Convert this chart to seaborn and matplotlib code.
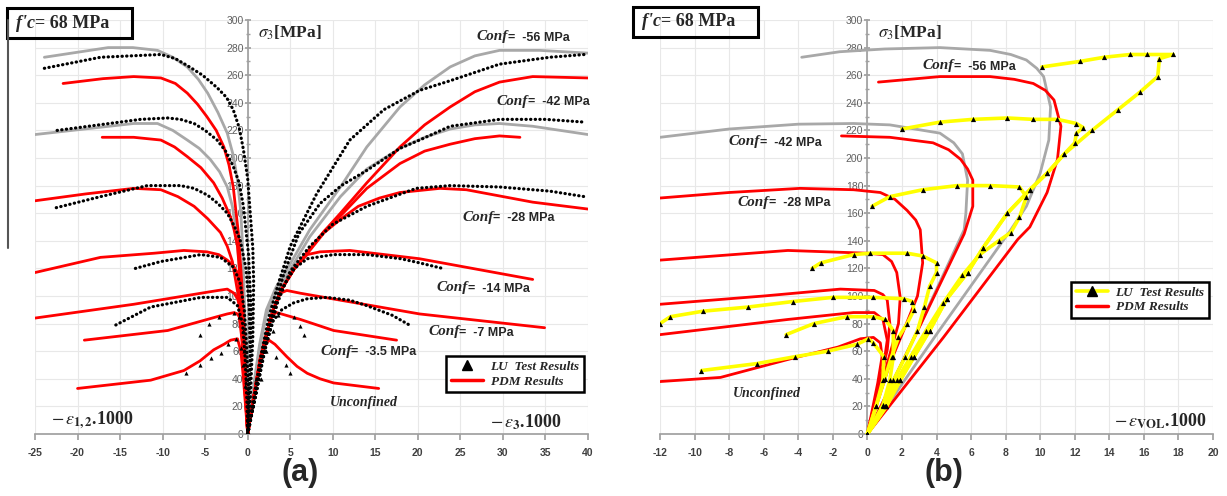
import numpy as np
import pandas as pd
import matplotlib
matplotlib.use("Agg")
import matplotlib.pyplot as plt
import seaborn as sns
from matplotlib.patches import Rectangle
from matplotlib.lines import Line2D

sns.set_theme(style="white")
plt.rcParams['font.family'] = ['Liberation Sans', 'DejaVu Sans']
plt.rcParams['mathtext.fontset'] = 'stix'
plt.rcParams['axes.unicode_minus'] = False

RED = '#ff0000'
GRAY = '#a8a8a8'
YEL = '#ffff00'

# ---------------- Panel (a): sigma3 vs strains ----------------
# PDM (red) lateral branches (negative side)
a_red_lat_56 = ([-21.7, -17, -13.4, -10.2, -8.5, -7.1, -5.9, -4.8, -3.7, -2.8, -2.2, -1.7, -1.1, -0.7, -0.4, -0.2, 0],
                [254, 257.5, 259, 258, 254, 247, 239, 230, 220, 208, 195, 179, 146, 110, 70, 35, 0])
a_red_lat_42 = ([-17.1, -13.4, -10.2, -8.6, -7.1, -5.5, -4.0, -3.0, -2.0, -1.6, -1.2, -0.8, -0.5, -0.25, 0],
                [215, 215, 213, 208, 201, 193, 182, 171, 157, 148, 136, 105, 70, 35, 0])
a_red_lat_28 = ([-25, -19, -13.4, -10.2, -8.2, -6.3, -4.7, -3.2, -2.4, -1.8, -1.1, -0.6, -0.3, 0],
                [169, 174, 178, 177, 172, 165, 156, 146, 136, 125, 100, 65, 30, 0])
a_red_lat_14 = ([-25, -17.3, -11, -7.5, -4.8, -3.4, -2.4, -1.7, -1.2, -0.8, -0.5, -0.25, 0],
                [117, 128, 131, 133, 132, 130, 126, 122, 117, 95, 65, 30, 0])
a_red_lat_7 = ([-25, -13.4, -5.5, -3.5, -2.4, -1.6, -1.2, -0.9, -0.6, -0.35, 0],
               [84, 94, 102, 104, 105, 102, 98, 92, 70, 40, 0])
a_red_lat_35 = ([-19.2, -9.4, -3.6, -2.4, -1.6, -1.2, -1.0, -0.7, -0.4, 0],
                [68, 75, 85, 87, 88, 87, 85, 70, 40, 0])
a_red_lat_0 = ([-20, -11.4, -7.5, -5.6, -4, -2.8, -2, -1.2, -0.8, -0.5, -0.25, 0],
               [33, 39, 46, 53, 61, 65, 68, 69, 60, 40, 20, 0])
# PDM (red) axial branches (positive side)
a_red_ax_56 = ([0, 0.8, 1.5, 2.2, 3.0, 4.0, 5.5, 7.3, 9, 10.9, 14, 17.9, 20.8, 23.8, 26.7, 29.6, 33.5, 40],
               [0, 30, 55, 72, 90, 105, 120, 134, 147, 160, 182, 208, 224, 237, 248, 255, 259, 258])
a_red_ax_42 = ([0, 0.8, 1.5, 2.2, 3.0, 4.0, 5.5, 7.3, 9, 10.9, 14, 17.9, 20.8, 23.8, 26.7, 29.6, 32],
               [0, 30, 55, 72, 90, 105, 120, 134, 147, 158, 178, 196, 205, 210, 214, 216, 215])
a_red_ax_28 = ([0, 0.8, 1.5, 2.2, 3.0, 4.0, 5.5, 7.3, 9, 11, 13, 15.5, 17.9, 22.6, 25.7, 33.5, 40],
               [0, 30, 55, 72, 90, 105, 120, 133, 146, 156, 165, 171, 175, 178, 177, 168, 163])
a_red_ax_14 = ([0, 0.8, 1.5, 2.2, 3.0, 4.0, 5.5, 7, 8.5, 12, 20.2, 33.5],
               [0, 30, 55, 72, 90, 105, 120, 130, 132, 133, 127, 112])
a_red_ax_7 = ([0, 0.8, 1.5, 2.2, 3.0, 3.8, 4.6, 6.2, 20.2, 34.9],
              [0, 30, 55, 72, 90, 102, 104, 102, 87, 77])
a_red_ax_35 = ([0, 0.8, 1.5, 2.2, 2.8, 3.4, 6.2, 10.1, 17.5],
               [0, 30, 55, 72, 86, 88, 83, 75, 68])
a_red_ax_0 = ([0, 0.8, 1.5, 2.0, 2.5, 3.2, 4.6, 5.8, 7, 8.5, 10.1, 15.4],
              [0, 30, 52, 64, 68, 65, 56, 49, 44, 40, 37, 33])
# second model (gray)
a_gray_lat_56 = ([-23.9, -16.4, -13.5, -10.6, -8.8, -7.1, -5.8, -4.7, -3.5, -2.4, -1.7, -1.2, -0.8, -0.6, -0.35, -0.15, 0],
                 [273, 280, 280, 278, 273, 266, 257, 247, 233, 218, 202, 184, 160, 136, 90, 40, 0])
a_gray_lat_42 = ([-25, -13.4, -10.6, -8.8, -7.1, -5.7, -4.4, -3.3, -2.4, -1.8, -1.4, -0.8, -0.4, -0.15, 0],
                 [217, 225, 225, 220, 213, 207, 199, 190, 179, 165, 150, 110, 60, 25, 0])
a_gray_ax_56 = ([0, 0.7, 1.4, 2.2, 3.3, 4.6, 7.3, 10.9, 14, 17.9, 20.8, 23.8, 26.7, 29.6, 34.3, 40],
                [0, 35, 65, 90, 106, 119, 148, 179, 208, 237, 253, 266, 274, 278, 278, 276])
a_gray_ax_42 = ([0, 0.7, 1.4, 2.2, 3.3, 4.6, 7.3, 10.9, 14, 17.9, 20.8, 23.8, 26.7, 29.6, 33.5, 40],
                [0, 33, 62, 86, 102, 115, 143, 172, 192, 207, 215, 221, 224, 225, 223, 217])
# LU test results (dense black markers)
a_test_lat_56 = ([-23.9, -17.3, -10.2, -8.5, -7.1, -5.3, -3.6, -2.5, -1.7, -1.0, -0.5, 0, 0.3, 0.6, 0.7, 0.6, 0.3, 0],
                 [265, 273, 275, 272, 267, 260, 251, 244, 235, 222, 206, 185, 160, 135, 110, 70, 25, 0])
a_test_lat_42 = ([-22.4, -12.6, -9.4, -7.9, -6.3, -5.0, -3.6, -2.6, -1.7, -1.0, -0.5, 0.1, 0.4, 0.3, 0.1, 0],
                 [220, 228, 229, 228, 225, 220, 213, 205, 194, 182, 165, 130, 90, 50, 20, 0])
a_test_lat_28 = ([-22.5, -17.3, -11.8, -7.9, -6.3, -4.7, -3.5, -2.4, -1.6, -0.9, -0.2, 0.2, 0.3, 0.1, 0],
                 [164, 172, 180, 180, 178, 173, 167, 160, 151, 141, 120, 90, 50, 20, 0])
a_test_lat_14 = ([-13.2, -10.2, -5.5, -3.2, -1.7, -0.9, -0.4, -0.1, 0.1, 0],
                 [120, 125, 130, 128, 121, 110, 90, 60, 30, 0])
a_test_lat_7 = ([-15.5, -11.4, -5.5, -2.4, -1.2, -0.6, -0.3, -0.1, 0],
                [79, 92, 99, 99, 93, 80, 55, 25, 0])
a_test_ax_56 = ([0, 0.7, 1.5, 2.5, 3.6, 5, 8.1, 12, 16, 20.2, 23.8, 29.6, 35.5, 39.6],
                [0, 25, 55, 85, 109, 136, 174, 213, 235, 249, 256, 268, 273, 275])
a_test_ax_42 = ([0, 0.8, 1.7, 2.8, 4.2, 6, 8.5, 11, 14, 17.9, 20.2, 23.8, 29.6, 35, 39.6],
                [0, 25, 55, 85, 115, 145, 167, 180, 191, 207, 213, 223, 228, 228, 226])
a_test_ax_28 = ([0, 1, 2, 3.5, 5, 7.3, 10, 14, 19.8, 23.8, 29.6, 35.5, 39.6],
                [0, 30, 60, 95, 118, 136, 152, 165, 178, 180, 179, 176, 172])
a_test_ax_14 = ([0, 1, 2, 3, 4, 5.5, 7, 10.1, 14, 18, 20.2, 22.9],
                [0, 30, 62, 88, 105, 120, 127, 130, 130, 127, 124, 120])
a_test_ax_7 = ([0, 1, 2, 3, 4, 5.4, 7, 9.3, 12, 14, 17, 19],
               [0, 30, 62, 82, 90, 95, 98, 99, 97, 93, 86, 79])
# sparse test points
a_pts_35 = ([-5.6, -4.6, -3.4, -1.6, -1.0, -0.6, -0.4, -0.2, 0.5, 1.0, 2.0, 3.0, 3.6, 5.4, 6.1, 6.6],
            [72, 80, 85, 88, 85, 75, 60, 40, 20, 40, 60, 75, 86, 85, 78, 72])
a_pts_0 = ([-7.3, -5.6, -4.3, -3.1, -2.3, -1.4, -0.8, -0.5, -0.3, 1.6, 2.2, 3.3, 4.5, 5.0],
           [44, 50, 55, 59, 65, 69, 62, 50, 35, 40, 60, 56, 50, 44])

# ---------------- Panel (b): sigma3 vs volumetric strain ----------------
b_gray_56 = ([-3.8, -1.6, 1, 4.2, 7.1, 8.3, 9.2, 9.8, 10.2, 10.6, 10.5, 10, 9.2, 8.3, 4.1, 0],
             [273, 277, 279, 280, 278, 275, 271, 265, 259, 237, 213, 189, 165, 148, 74, 0])
b_gray_42 = ([-12, -8, -4, -0.8, 1.3, 4.2, 5.0, 5.5, 5.8, 5.7, 5.6, 2.9, 0],
             [215, 221, 224.5, 225, 224, 218, 211, 203, 184, 160, 148, 75, 0])
b_red_56 = ([0.64, 4.2, 7.1, 8.5, 9.6, 10.3, 10.8, 11.2, 11, 10.4, 9.4, 8.7, 4.4, 0],
            [255, 259, 259, 257, 254, 249, 242, 223, 199, 175, 150, 141, 70, 0])
b_red_42 = ([-1.5, 1.3, 3.8, 4.7, 5.4, 5.8, 6.1, 6.1, 5.6, 2.8, 0],
            [216, 215, 211, 206, 199, 192, 184, 165, 145, 72, 0])
b_red_28 = ([-12, -8, -3.9, -0.8, 0.75, 1.6, 2.3, 2.8, 3.06, 3.2, 2.9, 2.1, 1.3, 0],
            [171, 175, 178, 177, 175, 170, 162, 155, 148, 124, 100, 75, 51, 0])
b_red_14 = ([-12, -4.6, 0, 0.9, 1.4, 1.7, 1.9, 1.8, 1.15, 0],
            [126, 133, 131, 130, 125, 117, 99, 80, 51, 0])
b_red_7 = ([-12, -6, -1.56, 0.4, 0.9, 1.15, 1.3, 1.15, 0.6, 0],
           [94, 100, 105, 104, 101, 97, 80, 61, 32, 0])
b_red_35 = ([-12, -4.6, -0.8, 0.4, 0.9, 1.15, 0.9, 0],
            [72, 83, 88, 88, 83, 68, 46, 0])
b_red_0 = ([-12, -8.5, -4.6, -1.7, -0.4, 0.35, 0.75, 0.85, 0.6, 0],
           [38, 41, 54, 63, 69, 70, 66, 56, 37, 0])
b_test_56 = ([0, 1.1, 1.9, 2.7, 3.6, 4.6, 5.8, 6.7, 8.1, 9.4, 10.4, 11.4, 13, 14.5, 15.8, 16.8, 16.9, 17.7, 16.2, 15.2, 13.7, 12.3, 10.1],
             [0, 20, 39, 56, 75, 98, 117, 135, 160, 177, 189, 203, 220, 235, 248, 259, 272, 275, 275, 275, 273, 270, 266])
b_test_42 = ([0, 1.1, 1.9, 2.7, 3.6, 4.6, 5.8, 6.7, 8.1, 9.4, 10.4, 11.4, 12.0, 12.1, 12.5, 12.1, 11, 9.6, 8.1, 6.1, 4.2, 2.0],
             [0, 20, 39, 56, 75, 98, 117, 135, 160, 177, 189, 203, 211, 218, 222, 225, 228, 228, 229, 228, 226, 221])
b_test_28 = ([0, 1.0, 1.7, 2.5, 3.4, 4.4, 5.5, 6.5, 7.6, 8.3, 8.8, 9.2, 8.8, 7.1, 5.2, 3.2, 1.3, 0.27],
             [0, 20, 39, 56, 75, 95, 115, 130, 140, 146, 157, 172, 179, 180, 180, 177, 172, 165])
b_test_14 = ([0, 0.9, 1.5, 2.2, 2.9, 3.3, 3.6, 4.0, 4.0, 3.2, 2.3, 0.17, -0.8, -2.7, -3.2],
             [0, 20, 39, 56, 75, 92, 107, 117, 124, 129, 131, 131, 130, 124, 120])
b_test_7 = ([0, 0.5, 1.0, 1.4, 1.8, 2.3, 2.7, 2.6, 2.1, 0.35, -2, -4.3, -6.9, -9.5, -11.4, -12],
            [0, 20, 40, 56, 70, 80, 90, 96, 98, 99, 99, 96, 92, 89, 85, 80])
b_test_35 = ([0, 0.9, 1.3, 1.5, 1.5, 1.04, 0.35, -1.2, -3.1, -4.7],
             [0, 21, 39, 56, 75, 83, 85, 85, 80, 72])
b_test_0 = ([0, 0.5, 0.9, 0.95, 0.35, 0.06, -0.6, -2.3, -4.2, -6.4, -9.6],
            [0, 20, 39, 56, 66, 69, 65, 60, 56, 51, 46])

a_conf_labels = [("-56", 26.9, 287.7), ("-42", 29.3, 241), ("-28", 25.2, 157),
                 ("-14", 22.2, 105.8), ("-7", 21.2, 74), ("-3.5", 8.5, 60)]
b_conf_labels = [("-56", 3.18, 266.7), ("-42", -8.03, 211.6), ("-28", -7.5, 168)]
legend_labels = ["LU  Test Results", "PDM Results"]

W, H = 1227, 496
fig = plt.figure(figsize=(W / 100, H / 100), dpi=100)
fig.patch.set_facecolor('white')
axA = fig.add_axes([35 / W, 62 / H, 553 / W, 414 / H])
axB = fig.add_axes([660 / W, 62 / H, 553 / W, 414 / H])


def line(ax, data, color, lw=2.0, z=2, **kw):
    kw.setdefault('solid_joinstyle', 'round')
    kw.setdefault('solid_capstyle', 'round')
    sns.lineplot(x=data[0], y=data[1], sort=False, estimator=None, ax=ax,
                 color=color, lw=lw, zorder=z, legend=False, **kw)


def dots(ax, data):
    line(ax, data, 'black', lw=2.3, z=4, linestyle=(0, (0.1, 1.35)),
         dash_capstyle='round')


def style(ax, xlim, xstep):
    ax.set_xlim(*xlim)
    ax.set_ylim(0, 300)
    ax.set_xticks(np.arange(xlim[0], xlim[1] + 1, xstep))
    ax.set_yticks(np.arange(0, 301, 20))
    ax.set_yticks(np.arange(0, 301, 10), minor=True)
    ax.grid(True, which='major', color='#e8e8e8', lw=0.8)
    ax.set_axisbelow(True)
    for s in ['top', 'right']:
        ax.spines[s].set_visible(False)
    ax.spines['left'].set_position(('data', 0))
    ax.spines['left'].set_color('#a0a0a0')
    ax.spines['bottom'].set_color('#a0a0a0')
    ax.spines['left'].set_zorder(1)
    ax.tick_params(axis='y', which='major', length=4, direction='inout', color='#a0a0a0',
                   labelsize=7.5, labelcolor='#606060', pad=1, left=True)
    ax.tick_params(axis='y', which='minor', length=2.5, direction='inout', color='#a0a0a0', left=True)
    ax.tick_params(axis='x', length=4, direction='out', color='#a0a0a0', labelsize=7.5,
                   labelcolor='#404040', pad=6, bottom=True)
    for l in ax.get_xticklabels():
        l.set_fontweight('bold')
    for l in ax.get_yticklabels():
        l.set_zorder(0)
    ax.set_xlabel('')
    ax.set_ylabel('')
    ax.patch.set_alpha(0)


def conf(ax, x, y, val):
    t = ax.text(x, y, 'Conf', family='Liberation Serif', style='italic', weight='bold',
                fontsize=11, va='center', ha='left', color='#262626', zorder=6)
    ax.annotate(f'=  {val} MPa', xy=(1, 0.45), xycoords=t, va='center', ha='left',
                family='Liberation Sans', weight='bold', fontsize=9, color='#262626', zorder=6)


# ---- panel a
for d in [a_gray_lat_56, a_gray_lat_42, a_gray_ax_56, a_gray_ax_42]:
    line(axA, d, GRAY, lw=2.0, z=2)
for d in [a_red_lat_56, a_red_lat_42, a_red_lat_28, a_red_lat_14, a_red_lat_7, a_red_lat_35, a_red_lat_0,
          a_red_ax_56, a_red_ax_42, a_red_ax_28, a_red_ax_14, a_red_ax_7, a_red_ax_35, a_red_ax_0]:
    line(axA, d, RED, lw=2.0, z=3)
for d in [a_test_lat_56, a_test_lat_42, a_test_lat_28, a_test_lat_14, a_test_lat_7,
          a_test_ax_56, a_test_ax_42, a_test_ax_28, a_test_ax_14, a_test_ax_7]:
    dots(axA, d)
for d in [a_pts_35, a_pts_0]:
    sns.scatterplot(x=d[0], y=d[1], ax=axA, marker='^', color='black', s=9, linewidth=0, zorder=5, legend=False)
style(axA, (-25, 40), 5)

for v, x, y in a_conf_labels:
    conf(axA, x, y, v)
axA.text(9.7, 22.5, 'Unconfined', family='Liberation Serif', style='italic', weight='bold',
         fontsize=10, va='center', ha='left', color='#262626')
axA.text(-23.1, 10, r'$-\,\varepsilon_{\mathbf{1,2}}$.1000', family='Liberation Serif', weight='bold',
         fontsize=13, va='center', ha='left', color='#262626')
axA.text(28.5, 8.7, r'$-\,\varepsilon_{\mathbf{3}}$.1000', family='Liberation Serif', weight='bold',
         fontsize=13, va='center', ha='left', color='#262626')
axA.text(1.25, 291, r'$\sigma_{3}$[MPa]', family='Liberation Serif', weight='bold',
         fontsize=12.5, va='center', ha='left', color='#262626')

hA = [Line2D([], [], color='black', marker='^', ls='none', ms=7),
      Line2D([], [], color=RED, lw=2.5)]
legA = axA.legend(hA, legend_labels, loc='lower right', bbox_to_anchor=(0.993, 0.101),
                  frameon=True, fancybox=False, edgecolor='black', framealpha=1,
                  prop=dict(family='Liberation Serif', style='italic', weight='bold', size=9.5),
                  handlelength=2.4, borderpad=0.35, labelspacing=0.2, handletextpad=0.6, borderaxespad=0)
legA.get_frame().set_linewidth(1.8)

# ---- panel b
for d in [b_gray_56, b_gray_42]:
    line(axB, d, GRAY, lw=2.0, z=2)
for d in [b_red_56, b_red_42, b_red_28, b_red_14, b_red_7, b_red_35, b_red_0]:
    line(axB, d, RED, lw=2.0, z=3)
for d in [b_test_56, b_test_42, b_test_28, b_test_14, b_test_7, b_test_35, b_test_0]:
    line(axB, d, YEL, lw=2.6, z=4)
    sns.scatterplot(x=d[0], y=d[1], ax=axB, marker='^', color='black', s=14, linewidth=0, zorder=5, legend=False)
style(axB, (-12, 20), 2)

for v, x, y in b_conf_labels:
    conf(axB, x, y, v)
axB.text(-7.8, 29, 'Unconfined', family='Liberation Serif', style='italic', weight='bold',
         fontsize=10, va='center', ha='left', color='#262626')
axB.text(14.3, 9.4, r'$-\,\varepsilon_{\mathbf{VOL}}$.1000', family='Liberation Serif', weight='bold',
         fontsize=13, va='center', ha='left', color='#262626')
axB.text(0.64, 291, r'$\sigma_{3}$[MPa]', family='Liberation Serif', weight='bold',
         fontsize=12.5, va='center', ha='left', color='#262626')

hB = [Line2D([], [], color=YEL, lw=2.6, marker='^', mfc='black', mec='black', ms=7),
      Line2D([], [], color=RED, lw=2.5)]
legB = axB.legend(hB, legend_labels, loc='lower right', bbox_to_anchor=(0.993, 0.280),
                  frameon=True, fancybox=False, edgecolor='black', framealpha=1,
                  prop=dict(family='Liberation Serif', style='italic', weight='bold', size=9.5),
                  handlelength=2.4, borderpad=0.35, labelspacing=0.2, handletextpad=0.6, borderaxespad=0)
legB.get_frame().set_linewidth(1.8)

# ---- f'c boxes
for (x0, y0) in [(7, 8), (633, 7)]:
    fig.patches.append(Rectangle((x0 / W, 1 - (y0 + 30) / H), 125 / W, 30 / H,
                                 transform=fig.transFigure, fill=False, lw=2.2, ec='black'))
    t = fig.text((x0 + 9) / W, 1 - (y0 + 15) / H, "f'c", family='Liberation Serif', style='italic',
                 weight='bold', fontsize=13, va='center', ha='left')
    fig.text(0, 0, "= 68 MPa", family='Liberation Serif', weight='bold', fontsize=13,
             va='center', ha='left')
    fig.texts[-1].remove()
    fig.add_artist(matplotlib.text.Annotation("= 68 MPa", xy=(1, 0.5), xycoords=t, va='center', ha='left',
                                              family='Liberation Serif', weight='bold', fontsize=13))

fig.add_artist(Line2D([8 / W, 8 / W], [1 - 20 / H, 1 - 248 / H], transform=fig.transFigure,
                      color='#555555', lw=1.5))

fig.text(300 / W, 1 - 473 / H, '(a)', family='Liberation Sans', weight='bold', fontsize=22,
         ha='center', va='center')
fig.text(944 / W, 1 - 473 / H, '(b)', family='Liberation Sans', weight='bold', fontsize=22,
         ha='center', va='center')

fig.savefig('out.png', dpi=100, facecolor='white')
